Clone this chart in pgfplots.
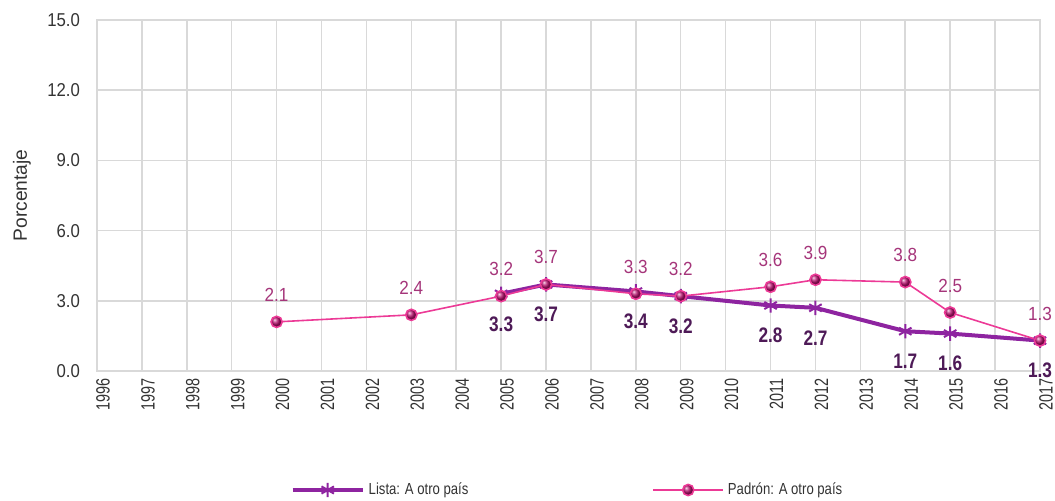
\documentclass[border=0pt]{standalone}
\usepackage{pgfplots}
\pgfplotsset{compat=1.18}
\usepackage{fontspec}
\setmainfont{Liberation Sans}
\newfontfamily\narrowA{Liberation Sans}[FakeStretch=0.75]
\newfontfamily\narrowB{Liberation Sans}[FakeStretch=0.82]
\newfontfamily\narrowC{Liberation Sans}[FakeStretch=0.9]
\definecolor{listaline}{HTML}{8E24A0}
\definecolor{listalab}{HTML}{4E1A57}
\definecolor{padline}{HTML}{EC3A96}
\definecolor{padball}{HTML}{B8106E}
\definecolor{padlab}{HTML}{A5357A}
\definecolor{gridc}{HTML}{D9D9D9}
\definecolor{txt}{HTML}{333333}
\begin{document}
\begin{tikzpicture}
\begin{axis}[
  scale only axis,
  width=471.5pt, height=175.5pt,
  xmin=1996, xmax=2017, ymin=0, ymax=15,
  xtick={1996,...,2017},
  ytick={0,3,6,9,12,15},
  major tick length=0pt,
  grid=major,
  grid style={gridc, line width=0.75pt},
  axis line style={gridc, line width=0.75pt},
  /pgf/number format/assume math mode=true,
  tick label style={text=txt},
  x tick label style={rotate=90, anchor=east, font=\narrowA\fontsize{9.6}{10}\selectfont, /pgf/number format/1000 sep={}, yshift=-3pt},
  y tick label style={font=\narrowC\fontsize{9.3}{10}\selectfont, /pgf/number format/fixed, /pgf/number format/zerofill, /pgf/number format/precision=1, xshift=-5pt},
  ylabel={Porcentaje},
  ylabel style={at={(axis description cs:-0.0795,0.5)}, rotate=0, anchor=center, text=txt, font=\fontsize{9.6}{10}\selectfont},
  clip=false,
  legend columns=2,
  legend style={at={(0.5,-0.339)}, anchor=center, draw=none, fill=none, text=txt, font=\narrowB\fontsize{8}{9}\selectfont,
    /tikz/every even column/.append style={column sep=90pt}},
  legend image code/.code={\draw[#1] (0pt,0pt) -- (17.5pt,0pt) plot coordinates {(17.5pt,0pt)} -- (35pt,0pt);},
]
\addplot[color=listaline, line width=2pt, mark=asterisk, mark size=3.6pt, mark options={line width=1pt},
  nodes near coords, point meta=explicit,
  every node near coord/.append style={anchor=center, yshift=-15pt, text=listalab, font=\narrowB\fontsize{10.5}{11}\selectfont\bfseries}]
  table[meta=m] {
x y m
2005 3.3 3.3
2006 3.7 3.7
2008 3.4 3.4
2009 3.2 3.2
2011 2.8 2.8
2012 2.7 2.7
2014 1.7 1.7
2015 1.6 1.6
2017 1.3 1.3
};
\addlegendentry{Lista: A otro país}
\addplot[color=padline, line width=0.8pt, mark=ball, mark size=2.8pt, mark options={ball color=padball},
  nodes near coords, point meta=explicit,
  every node near coord/.append style={anchor=center, yshift=13.5pt, text=padlab, font=\narrowC\fontsize{9.5}{10}\selectfont}]
  table[meta=m] {
x y m
2000 2.1 2.1
2003 2.4 2.4
2005 3.2 3.2
2006 3.7 3.7
2008 3.3 3.3
2009 3.2 3.2
2011 3.6 3.6
2012 3.9 3.9
2014 3.8 3.8
2015 2.5 2.5
2017 1.3 1.3
};
\addlegendentry{Padrón: A otro país}
\end{axis}
\pgfresetboundingbox
\path[use as bounding box] (current axis.south west) ++(-48.5pt,-64.5pt) rectangle ++(527.5pt,250pt);
\end{tikzpicture}
\end{document}
